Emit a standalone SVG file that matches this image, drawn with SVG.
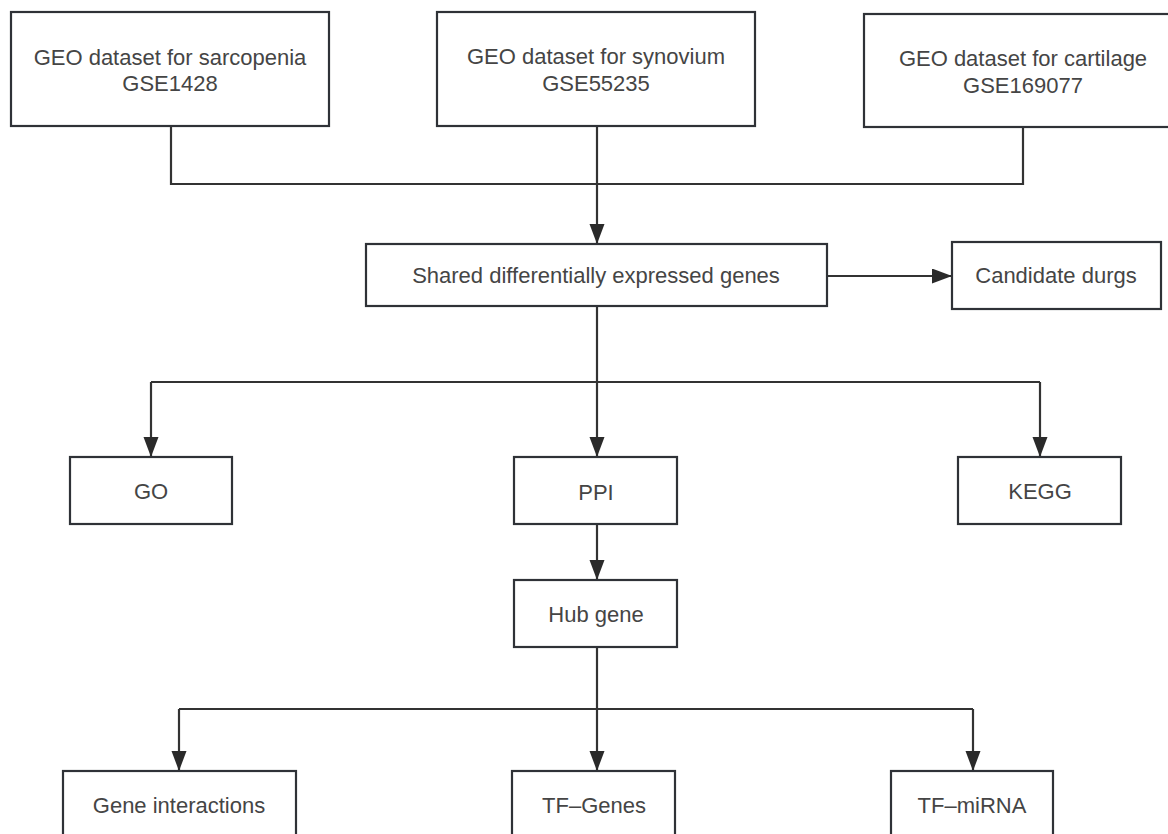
<svg xmlns="http://www.w3.org/2000/svg" width="1168" height="834" viewBox="0 0 1168 834">
<style>
.box{fill:#fff;stroke:#2f3237;stroke-width:2.2}
.t{font-family:"Liberation Sans",Arial,sans-serif;font-size:22px;fill:#454545;text-anchor:middle}
.c{fill:none;stroke:#333;stroke-width:2.2}
</style>
<defs>
<marker id="ah" markerUnits="userSpaceOnUse" markerWidth="20" markerHeight="16" refX="20" refY="7.5" orient="auto">
<path d="M0,0 L20,7.5 L0,15 Z" fill="#2a2a2a"/>
</marker>
</defs>
<rect width="1168" height="834" fill="#fff"/>
<g id="connectors">
<path class="c" d="M171,126 V184 H1023 V127"/>
<path class="c" d="M597,126 V244" marker-end="url(#ah)"/>
<path class="c" d="M827,276 H952" marker-end="url(#ah)"/>
<path class="c" d="M597,306 V382"/>
<path class="c" d="M151,382 H1040"/>
<path class="c" d="M151,382 V457" marker-end="url(#ah)"/>
<path class="c" d="M597,382 V457" marker-end="url(#ah)"/>
<path class="c" d="M1040,382 V457" marker-end="url(#ah)"/>
<path class="c" d="M597,524 V580" marker-end="url(#ah)"/>
<path class="c" d="M597,647 V709"/>
<path class="c" d="M179,709 H973"/>
<path class="c" d="M179,709 V771" marker-end="url(#ah)"/>
<path class="c" d="M597,709 V771" marker-end="url(#ah)"/>
<path class="c" d="M973,709 V771" marker-end="url(#ah)"/>
</g>
<g id="sarcopenia">
<rect class="box" x="11" y="12" width="318" height="114"/>
<text class="t" x="170" y="65">GEO dataset for sarcopenia</text>
<text class="t" x="170" y="91">GSE1428</text>
</g>
<g id="synovium">
<rect class="box" x="437" y="12" width="318" height="114"/>
<text class="t" x="596" y="64">GEO dataset for synovium</text>
<text class="t" x="596" y="91">GSE55235</text>
</g>
<g id="cartilage">
<rect class="box" x="864" y="14" width="320" height="113"/>
<text class="t" x="1023" y="66">GEO dataset for cartilage</text>
<text class="t" x="1023" y="93">GSE169077</text>
</g>
<g id="shared">
<rect class="box" x="366" y="244" width="461" height="62"/>
<text class="t" x="596" y="283">Shared differentially expressed genes</text>
</g>
<g id="candidate">
<rect class="box" x="952" y="242" width="209" height="67"/>
<text class="t" x="1056" y="283">Candidate durgs</text>
</g>
<g id="go">
<rect class="box" x="70" y="457" width="162" height="67"/>
<text class="t" x="151" y="499">GO</text>
</g>
<g id="ppi">
<rect class="box" x="514" y="457" width="163" height="67"/>
<text class="t" x="596" y="500">PPI</text>
</g>
<g id="kegg">
<rect class="box" x="958" y="457" width="163" height="67"/>
<text class="t" x="1040" y="499">KEGG</text>
</g>
<g id="hub">
<rect class="box" x="514" y="580" width="163" height="67"/>
<text class="t" x="596" y="622">Hub gene</text>
</g>
<g id="geneint">
<rect class="box" x="63" y="771" width="233" height="80"/>
<text class="t" x="179" y="813">Gene interactions</text>
</g>
<g id="tfgenes">
<rect class="box" x="512" y="771" width="163" height="80"/>
<text class="t" x="594" y="813">TF–Genes</text>
</g>
<g id="tfmirna">
<rect class="box" x="891" y="771" width="162" height="80"/>
<text class="t" x="972" y="813">TF–miRNA</text>
</g>
</svg>
